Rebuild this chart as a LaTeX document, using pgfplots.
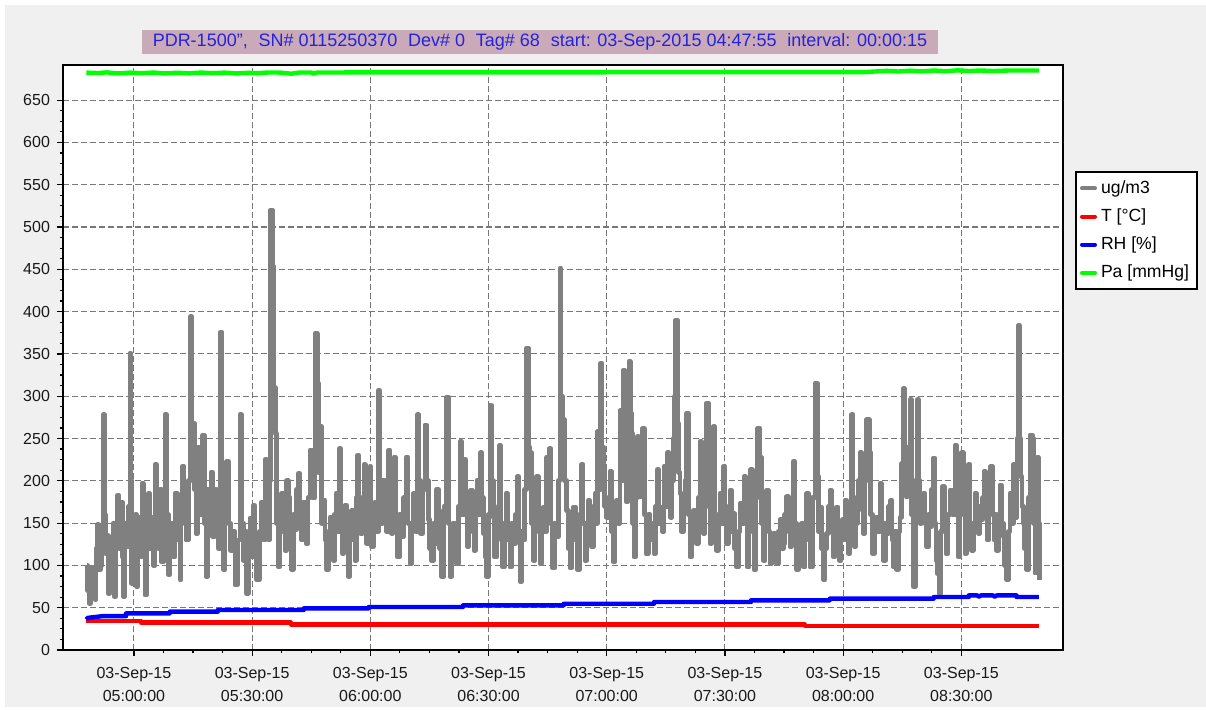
\documentclass[border=0pt]{standalone}
\usepackage{pgfplots}
\pgfplotsset{compat=1.18}
\usepackage{fontspec}
\setmainfont{Liberation Sans}
\definecolor{bgc}{RGB}{240,240,240}
\definecolor{titlebg}{RGB}{202,170,184}
\definecolor{titletx}{RGB}{35,35,220}
\definecolor{gridc}{RGB}{120,120,120}
\definecolor{grayline}{RGB}{128,128,128}
\definecolor{tickc}{RGB}{25,25,25}
\begin{document}
\begin{tikzpicture}
\fill[white] (-31.5pt,-29.5pt) rectangle (571.5pt,325pt);
\fill[bgc] (-29pt,-28.5pt) rectangle (571.5pt,322.5pt);
\begin{axis}[
  scale only axis, width=500pt, height=292.5pt,
  at={(0pt,0pt)}, anchor=south west,
  xmin=-18, xmax=235.8, ymin=0, ymax=691.5,
  axis background/.style={fill=white},
  axis line style={line width=1pt, black},
  xtick={0,30,...,210},
  xticklabels={03-Sep-15\\05:00:00,03-Sep-15\\05:30:00,03-Sep-15\\06:00:00,03-Sep-15\\06:30:00,03-Sep-15\\07:00:00,03-Sep-15\\07:30:00,03-Sep-15\\08:00:00,03-Sep-15\\08:30:00},
  ytick={0,50,...,650},
  minor x tick num=3, minor y tick num=3,
  xtick pos=bottom, ytick pos=left,
  tick align=outside,
  major tick length=3pt, minor tick length=1.5pt,
  tick style={black, line width=0.6pt},
  grid=major,
  major grid style={gridc, line width=0.55pt, dash pattern=on 3pt off 1.5pt},
  /pgf/number format/assume math mode=true,
  yticklabel style={font=\fontsize{8}{9.6}\selectfont, text=tickc},
  xticklabel style={font=\fontsize{8}{11.5}\selectfont, text=tickc, align=center, yshift=-2pt},
  legend cell align=left,
  legend style={at={(axis description cs:1.012,0.818)}, anchor=north west,
    draw=black, line width=1pt, fill=white, font=\fontsize{8.8}{10}\selectfont,
    row sep=2.2pt, inner sep=2pt},
  legend image code/.code={\draw[#1, line width=2pt, line cap=round] (0pt,0pt) -- (6.5pt,0pt);},
  every axis plot/.append style={line width=2.2pt, line join=round},
]
\addplot[grayline, const plot, line width=2.4pt] coordinates {
(-12.01,100) (-11.7,70) (-11.34,55) (-11.0,90) (-10.74,98) (-10.3,75) (-9.90,60) (-9.6,120) (-9.31,148) (-8.9,95) (-8.46,100) (-8.1,145) (-7.78,278) (-7.5,160) (-7.28,114) (-6.9,135) (-6.51,67) (-6.1,120) (-5.67,108) (-5.3,150) (-4.99,63) (-4.6,140) (-4.23,183) (-3.8,120) (-3.38,175) (-3.0,110) (-2.71,63) (-2.3,150) (-1.86,122) (-1.4,170) (-1.01,351) (-0.8,200) (-0.59,79) (-0.3,150) (0.00,126) (0.35,160) (0.68,75) (1.0,130) (1.35,157) (1.7,110) (2.03,197) (2.4,140) (2.79,65) (3.2,120) (3.64,185) (4.05,120) (4.48,157) (4.9,100) (5.33,219) (5.75,170) (6.18,120) (6.6,190) (7.02,104) (7.45,150) (7.87,278) (8.3,160) (8.71,89) (9.1,130) (9.56,150) (10.0,110) (10.41,185) (11.0,130) (11.67,83) (11.95,150) (12.27,217) (12.7,170) (13.20,130) (13.8,200) (14.38,394) (14.7,230) (15.06,268) (15.4,190) (15.74,138) (16.15,240) (16.58,209) (17.0,160) (17.43,254) (17.85,150) (18.27,87) (18.7,190) (19.12,165) (19.55,210) (19.97,134) (20.5,190) (20.98,152) (21.5,120) (22.00,376) (22.3,200) (22.67,95) (23.1,160) (23.52,223) (24.0,150) (24.53,118) (25.1,140) (25.63,77) (26.3,130) (26.90,278) (27.3,150) (27.75,106) (28.2,140) (28.60,67) (29.0,120) (29.44,156) (29.85,110) (30.29,171) (30.7,130) (31.13,83) (31.8,140) (32.40,175) (32.8,130) (33.25,225) (33.7,170) (34.09,130) (34.4,200) (34.69,520) (35.19,453) (35.5,310) (35.87,256) (36.2,150) (36.63,98) (37.0,140) (37.48,185) (37.9,140) (38.32,118) (38.75,200) (39.17,180) (39.6,120) (40.02,95) (40.4,160) (40.86,142) (41.3,190) (41.71,209) (42.1,150) (42.55,130) (43.1,175) (43.65,126) (44.2,180) (44.67,236) (45.3,180) (45.94,374) (46.53,315) (46.9,210) (47.21,264) (47.6,150) (48.05,177) (48.5,130) (48.90,95)
(49.3,140) (49.75,157) (50.2,120) (50.59,106) (50.9,160) (51.27,185) (51.7,140) (52.12,238) (52.5,170) (52.96,114) (53.25,150) (53.56,171) (54.0,120) (54.40,87) (54.8,130) (55.25,165) (55.7,130) (56.09,106) (56.4,180) (56.69,230) (57.1,170) (57.53,138) (57.95,180) (58.38,219) (58.7,160) (59.05,126) (59.5,170) (59.90,217) (60.1,160) (60.32,122) (60.75,150) (61.17,175) (61.6,140) (62.02,307) (62.3,200) (62.61,150) (63.15,200) (63.71,181) (64.1,140) (64.55,236) (65.0,180) (65.40,138) (65.7,190) (65.99,228) (66.4,150) (66.84,110) (67.4,160) (67.94,134) (68.5,180) (69.04,228) (69.55,150) (70.05,102) (70.5,150) (70.90,185) (71.4,140) (71.91,278) (72.3,200) (72.76,138) (73.3,190) (73.86,266) (74.3,200) (74.71,154) (75.1,120) (75.55,106) (76.0,150) (76.40,126) (76.8,190) (77.24,165) (77.65,120) (78.09,87) (78.7,170) (79.36,299) (79.8,150) (80.20,87) (80.6,120) (81.05,150) (81.5,120) (81.90,102) (82.3,170) (82.74,246) (83.2,160) (83.76,225) (84.2,170) (84.60,122) (85.0,160) (85.45,189) (85.9,140) (86.30,118) (86.7,160) (87.14,201) (87.55,160) (87.99,233) (88.3,180) (88.66,138) (89.1,110) (89.51,87) (89.9,160) (90.36,289) (90.8,200) (91.20,157) (91.6,110) (92.05,130) (92.4,170) (92.72,242) (93.1,150) (93.57,98) (94.0,150) (94.42,185) (94.9,130) (95.43,98) (95.9,150) (96.45,126) (96.9,160) (97.29,205) (97.6,130) (97.97,81) (98.4,140) (98.82,130) (99.2,190) (99.66,357) (100.1,240) (100.51,233) (100.9,150) (101.35,106) (101.8,160) (102.20,205) (102.6,140) (103.05,102) (103.5,140) (103.89,169) (104.3,140) (104.74,228) (105.1,180) (105.41,238) (105.8,150) (106.26,97) (106.8,150) (107.28,134) (107.7,200) (108.12,451) (108.4,300) (108.80,272) (109.3,200)
(109.81,165) (110.2,120) (110.66,97) (111.1,140) (111.50,169) (112.0,130) (112.52,95) (113.1,160) (113.62,219) (114.0,150) (114.47,106) (114.9,150) (115.31,177) (115.7,130) (116.16,122) (116.6,170) (117.00,185) (117.3,150) (117.60,258) (118.0,190) (118.44,339) (118.8,240) (119.12,213) (119.5,170) (119.96,157) (120.4,180) (120.81,211) (121.2,140) (121.66,104) (122.1,150) (122.50,177) (122.9,150) (123.35,283) (123.8,200) (124.19,331) (124.6,230) (125.04,175) (125.3,250) (125.63,341) (125.95,280) (126.31,256) (126.6,150) (126.90,110) (127.3,180) (127.75,252) (128.1,200) (128.42,181) (128.75,230) (129.10,262) (129.5,160) (129.95,114) (130.5,160) (130.96,150) (131.5,130) (131.98,114) (132.4,170) (132.82,213) (133.2,150) (133.67,169) (134.1,140) (134.52,217) (134.9,170) (135.36,233) (135.8,190) (136.21,157) (136.5,200) (136.88,250) (137.2,300) (137.48,390) (137.90,268) (138.2,210) (138.58,185) (139.0,140) (139.42,165) (139.85,200) (140.27,280) (140.7,160) (141.11,110) (141.5,140) (141.96,165) (142.4,140) (142.81,126) (143.2,180) (143.65,246) (144.1,170) (144.50,138) (144.9,200) (145.34,292) (145.8,170) (146.19,126) (146.6,180) (147.04,264) (147.45,160) (147.88,118) (148.3,160) (148.73,185) (149.15,150) (149.57,217) (150.0,170) (150.42,126) (150.85,160) (151.27,189) (151.7,140) (152.11,161) (152.5,120) (152.96,98) (153.4,140) (153.80,173) (154.3,150) (154.82,205) (155.2,150) (155.67,98) (156.1,160) (156.51,213) (156.9,140) (157.36,95) (157.8,180) (158.20,262) (158.88,228) (159.3,150) (159.73,106) (160.15,150) (160.57,189) (161.0,140) (161.42,102) (161.85,130) (162.26,138) (162.7,120) (163.11,102) (163.5,140) (163.96,154) (164.4,120) (164.80,126) (165.2,160) (165.65,181) (166.1,140) (166.49,122) (166.9,170) (167.34,223) (167.75,150) (168.19,95) (168.6,130)
(169.03,110) (169.45,150) (169.88,98) (170.3,140) (170.72,185) (171.15,130) (171.57,98) (172.2,180) (172.84,315) (173.43,205) (173.8,140) (174.11,169) (174.5,120) (174.95,83) (175.4,120) (175.80,138) (176.2,170) (176.64,189) (177.05,140) (177.49,110) (177.9,140) (178.34,169) (178.7,130) (179.01,106) (179.45,140) (179.86,154) (180.15,130) (180.45,177) (180.9,140) (181.30,114) (181.7,160) (182.14,278) (182.5,180) (182.82,122) (183.2,150) (183.58,165) (183.9,200) (184.26,233) (184.7,170) (185.10,138) (185.5,200) (185.95,272) (186.63,233) (187.0,160) (187.47,114) (187.9,150) (188.32,157) (188.8,140) (189.33,197) (189.75,150) (190.18,106) (190.7,150) (191.20,138) (191.6,170) (192.04,177) (192.4,130) (192.72,98) (193.1,140) (193.56,95) (194.0,140) (194.41,157) (194.8,220) (195.26,309) (195.6,220) (195.93,181) (196.4,240) (196.95,296) (197.3,160) (197.79,75) (198.3,200) (198.81,296) (199.15,200) (199.49,150) (199.9,170) (200.33,185) (200.75,150) (201.18,122) (201.7,160) (202.19,146) (202.5,190) (202.87,227) (203.2,150) (203.55,106) (203.9,90) (204.39,67) (204.8,140) (205.24,193) (205.65,140) (206.08,114) (206.6,160) (207.10,189) (207.7,160) (208.37,242) (208.8,160) (209.22,110) (209.65,180) (210.06,233) (210.5,160) (210.91,114) (211.3,160) (211.76,219) (212.2,150) (212.60,118) (213.0,150) (213.45,185) (213.9,150) (214.29,138) (214.7,170) (215.14,154) (215.45,180) (215.73,211) (216.15,160) (216.58,130) (217.0,170) (217.42,217) (217.85,160) (218.27,130) (218.6,160) (218.94,118) (219.35,160) (219.79,195) (220.2,150) (220.64,134) (221.05,100) (221.48,83) (221.9,140) (222.33,185) (222.75,150) (223.17,219) (223.5,190) (223.85,157) (224.1,250) (224.44,384) (224.75,250) (225.04,205) (225.4,170) (225.71,150) (226.1,120) (226.56,95) (227.0,180) (227.40,254) (228.08,250) (228.4,150) (228.67,91) (229.0,180) (229.27,228) (229.5,150) (229.77,83)
};
\addlegendentry{ug/m3}
\addplot[red] coordinates {
(-12.08,34.5) (1.8,34.5) (1.8,32.3) (39.8,32.3) (39.8,30.2) (170.3,30.2) (170.3,28.3) (229.7,28.3)
};
\addlegendentry{T [°C]}
\addplot[blue] coordinates {
(-12.08,36) (-11.7,38) (-8,40) (-2.0,40) (-2.0,43.3) (9.1,43.3) (9.1,45.3) (21.3,45.3) (21.3,47.3)
(43.1,47.3) (43.1,49.2) (59.6,49.2) (59.6,50.8) (83.5,50.8) (83.5,52.8) (109.1,52.8) (109.1,54.7)
(132.0,54.7) (132.0,56.7) (156.6,56.7) (156.6,58.7) (176.6,58.7) (176.6,60.7) (203.0,60.7) (203.0,62.6)
(211.9,62.6) (211.9,64.6) (214,64.6) (214.5,63) (215,64.6) (218,64.6) (218.5,63) (219,64.6) (224,64.6) (224,62.6) (229.7,62.6)
};
\addlegendentry{RH [\%]}
\addplot[green] coordinates {
(-12.08,682.5) (-9,682) (-7,682.8) (-4,681.5) (-1,682.5) (2,681.8) (5,682.6) (8,681.5) (11,682.4)
(14,681.6) (17,682.6) (20,681.8) (23,682.5) (26,681.5) (29,682.3) (31,681.8) (34,682.6) (37,682.6)
(40,681.2) (42,682.6) (45,682.6) (45.5,681.4) (46.5,682.6) (60,682.8) (100,682.8) (150,683)
(185,683) (188,683.8) (191,684.6) (194,683.8) (197,684.8) (200,684) (203,685) (206,684.2)
(209,685.2) (212,684.4) (215,685) (218,684.4) (222,685) (226,685) (229.7,685)
};
\addlegendentry{Pa [mmHg]}
\end{axis}
\node[fill=titlebg, text=titletx, minimum width=398pt, minimum height=12pt, inner sep=0pt,
  font=\fontsize{9}{10.8}\selectfont] at (238.5pt,304pt)
  {PDR-1500",\hspace{0.6em}SN\# 0115250370\hspace{0.6em}Dev\# 0\hspace{0.6em}Tag\# 68\hspace{0.6em}start: 03-Sep-2015 04:47:55\hspace{0.6em}interval: 00:00:15};
\pgfresetboundingbox
\path[use as bounding box] (-31.5pt,-29.5pt) rectangle (571.5pt,325pt);
\end{tikzpicture}
\end{document}
